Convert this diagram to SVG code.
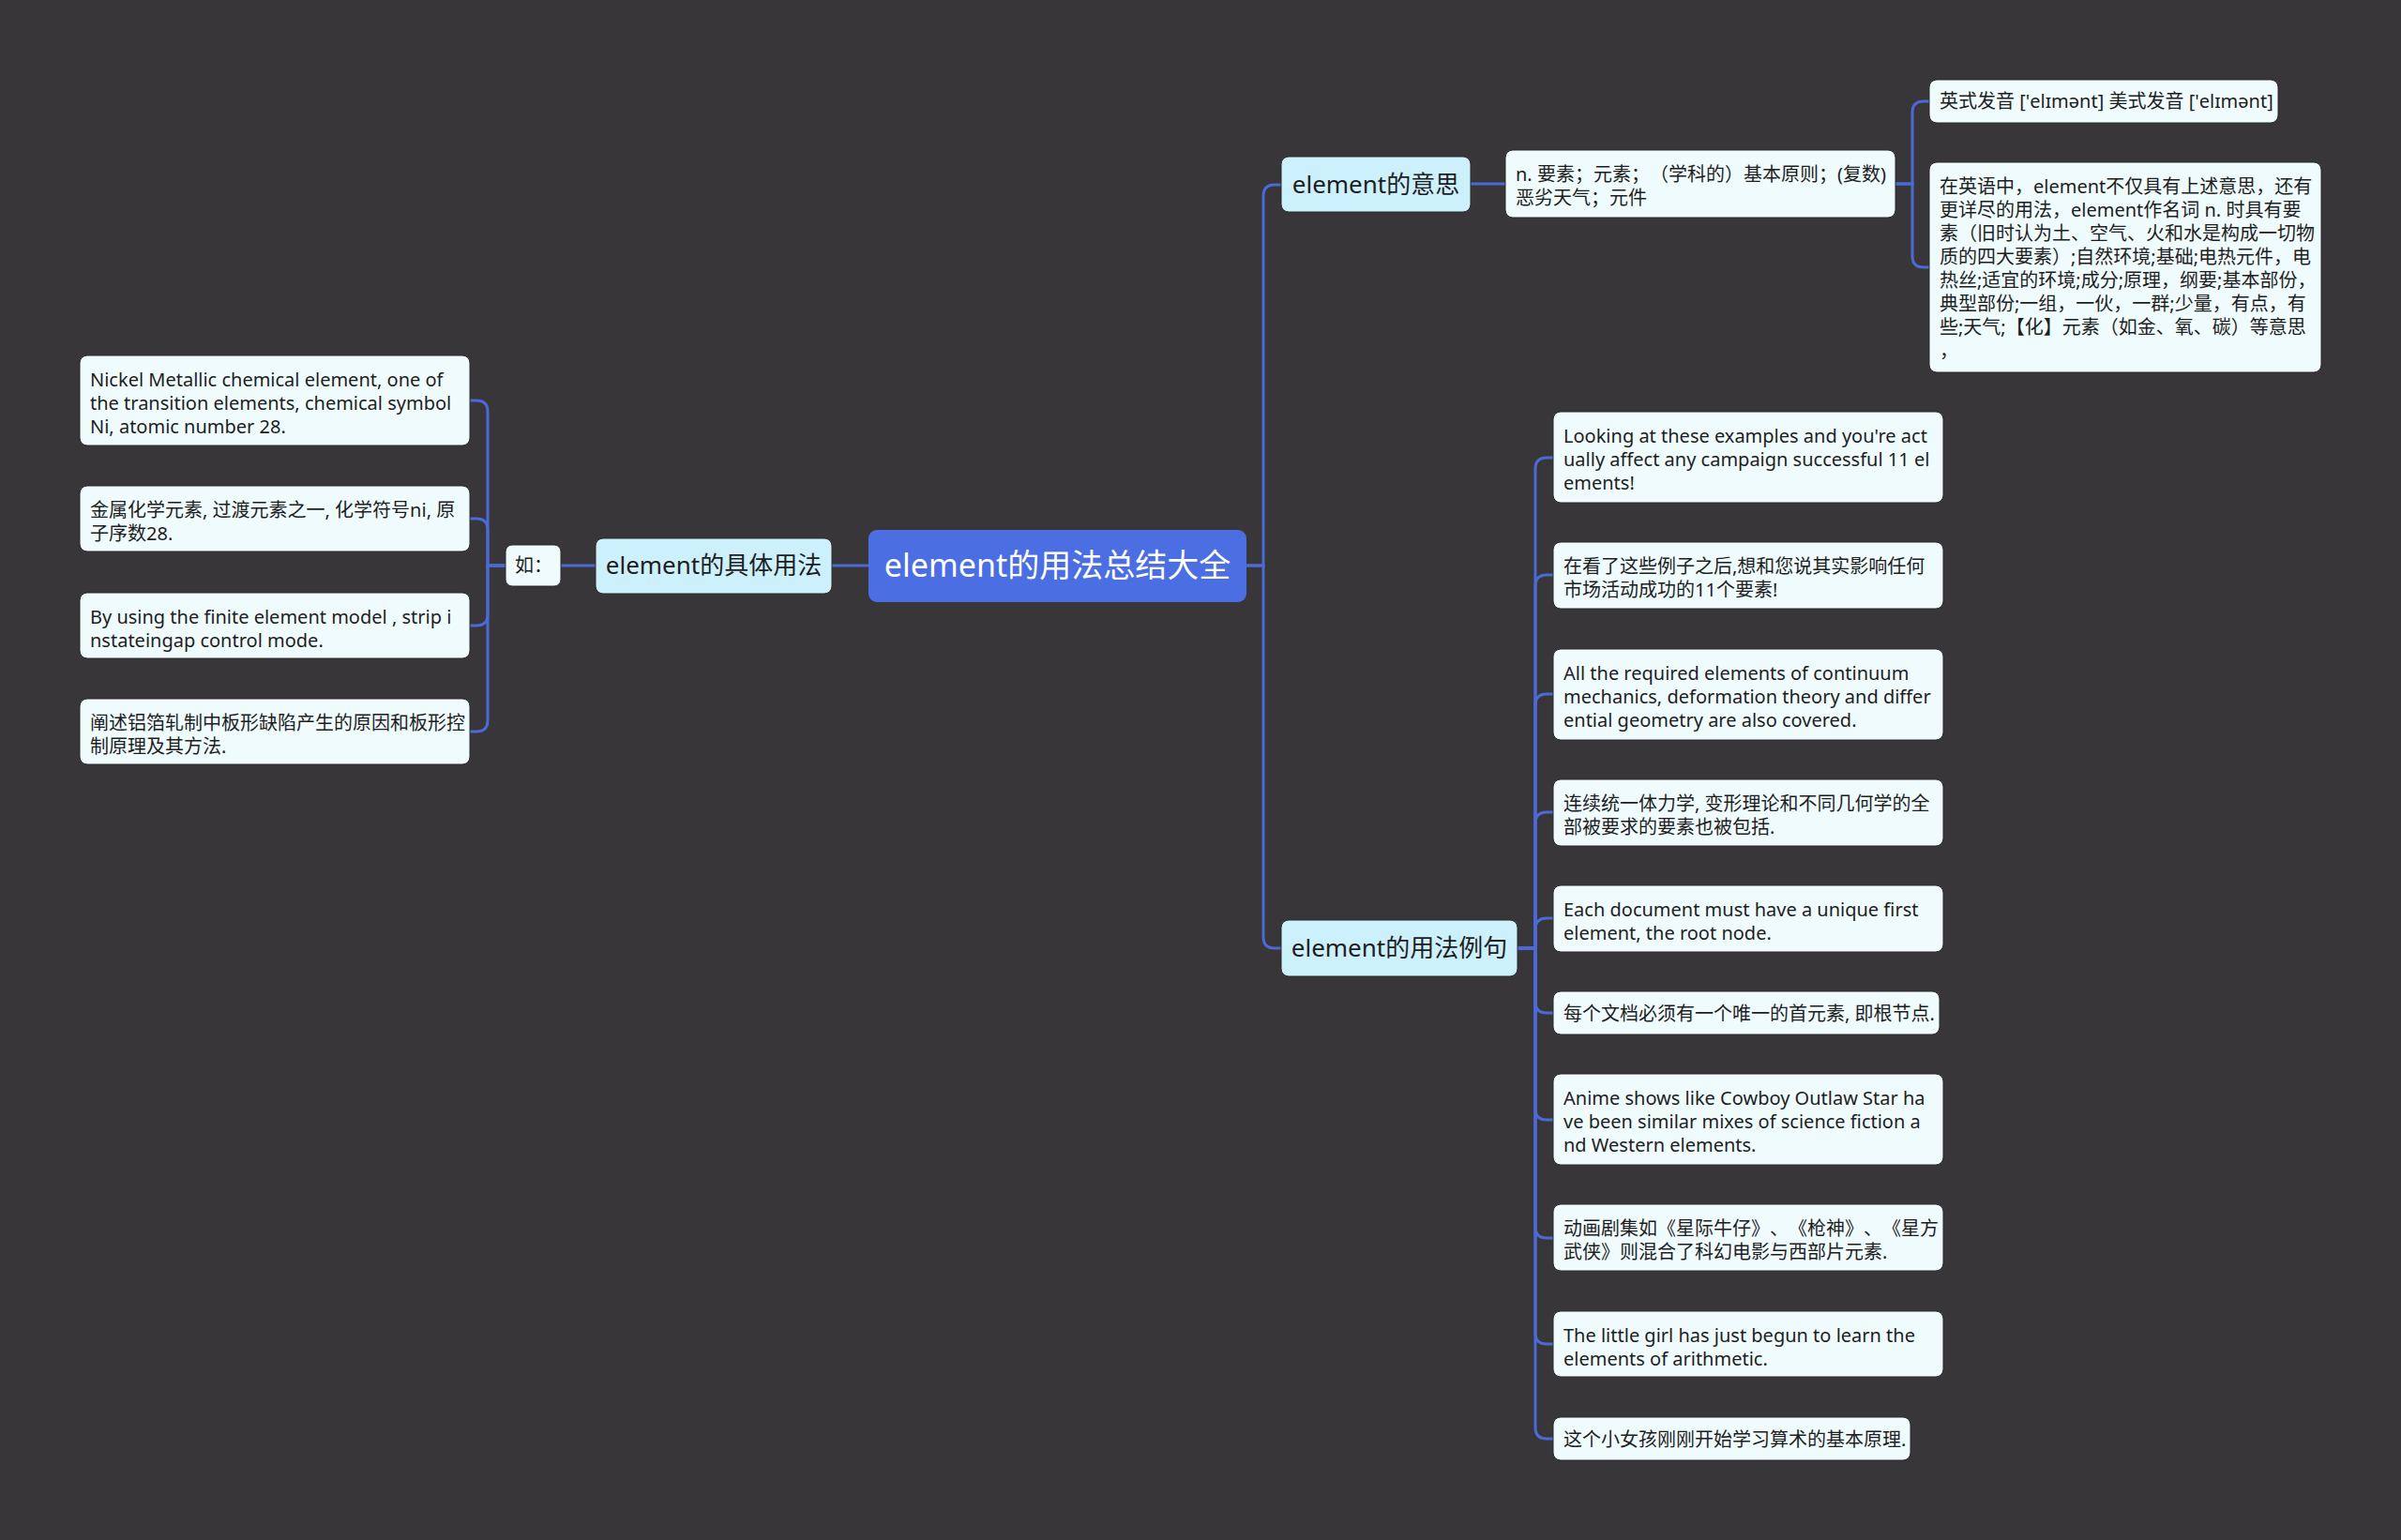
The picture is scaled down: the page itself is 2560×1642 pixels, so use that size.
<svg xmlns="http://www.w3.org/2000/svg" width="2560" height="1642" viewBox="0 0 2560 1642">
<style>
.bg{fill:#383638}
.ln{fill:none;stroke:#4a6ad6;stroke-width:3}
.root rect{fill:#4b6ee2}
.root text{fill:#ffffff;font-size:34px}
.l1 rect{fill:#cdf0fd;stroke:#2a2a2a;stroke-width:1}
.l1 text{fill:#1e1e1e;font-size:26px}
.lf rect{fill:#effbfd;stroke:#2a2a2a;stroke-width:1}
.lf text{fill:#1e1e1e;font-size:20px}
text{font-family:"Noto Sans","Noto Sans CJK SC",sans-serif;text-spacing-trim:space-all}
</style>
<rect class="bg" x="0" y="0" width="2560" height="1642"/>
<g id="connectors">
<path class="ln" d="M887 603 H926"/>
<path class="ln" d="M598 603 H635"/>
<path class="ln" d="M539 603 H520 V439 Q520 427 508 427 H501"/>
<path class="ln" d="M539 603 H520 V565 Q520 553 508 553 H501"/>
<path class="ln" d="M539 603 H520 V655 Q520 667 508 667 H501"/>
<path class="ln" d="M539 603 H520 V768 Q520 780 508 780 H501"/>
<path class="ln" d="M1329 603 H1347 V209 Q1347 197 1359 197 H1366"/>
<path class="ln" d="M1329 603 H1347 V999 Q1347 1011 1359 1011 H1366"/>
<path class="ln" d="M1568 196 H1605"/>
<path class="ln" d="M2021 196 H2039 V120 Q2039 108 2051 108 H2057"/>
<path class="ln" d="M2021 196 H2039 V273 Q2039 285 2051 285 H2057"/>
<path class="ln" d="M1618 1011 H1637 V500 Q1637 488 1649 488 H1656"/>
<path class="ln" d="M1618 1011 H1637 V625 Q1637 613 1649 613 H1656"/>
<path class="ln" d="M1618 1011 H1637 V752 Q1637 740 1649 740 H1656"/>
<path class="ln" d="M1618 1011 H1637 V878 Q1637 866 1649 866 H1656"/>
<path class="ln" d="M1618 1011 H1637 V991 Q1637 979 1649 979 H1656"/>
<path class="ln" d="M1618 1011 H1637 V1068 Q1637 1080 1649 1080 H1656"/>
<path class="ln" d="M1618 1011 H1637 V1182 Q1637 1194 1649 1194 H1656"/>
<path class="ln" d="M1618 1011 H1637 V1308 Q1637 1320 1649 1320 H1656"/>
<path class="ln" d="M1618 1011 H1637 V1421 Q1637 1433 1649 1433 H1656"/>
<path class="ln" d="M1618 1011 H1637 V1522 Q1637 1534 1649 1534 H1656"/>
</g>
<g id="root" class="root">
<rect x="926" y="565" width="403" height="77" rx="9"/>
<text x="1127.5" y="615" text-anchor="middle">element的用法总结大全</text>
</g>
<g id="n-usage" class="l1">
<rect x="635" y="574" width="252" height="59" rx="8"/>
<text x="761" y="612" text-anchor="middle">element的具体用法</text>
</g>
<g id="n-ru" class="lf">
<rect x="539" y="581" width="59" height="44" rx="7"/>
<text x="549" y="610">如：</text>
</g>
<g id="n-nickel" class="lf">
<rect x="85" y="379" width="416" height="96" rx="8"/>
<text x="96" y="412">Nickel Metallic chemical element, one of</text>
<text x="96" y="437">the transition elements, chemical symbol</text>
<text x="96" y="462">Ni, atomic number 28.</text>
</g>
<g id="n-jinshu" class="lf">
<rect x="85" y="518" width="416" height="70" rx="8"/>
<text x="96" y="551">金属化学元素, 过渡元素之一, 化学符号ni, 原</text>
<text x="96" y="576">子序数28.</text>
</g>
<g id="n-byusing" class="lf">
<rect x="85" y="632" width="416" height="70" rx="8"/>
<text x="96" y="665">By using the finite element model , strip i</text>
<text x="96" y="690">nstateingap control mode.</text>
</g>
<g id="n-chanshu" class="lf">
<rect x="85" y="745" width="416" height="70" rx="8"/>
<text x="96" y="778">阐述铝箔轧制中板形缺陷产生的原因和板形控</text>
<text x="96" y="803">制原理及其方法.</text>
</g>
<g id="n-meaning" class="l1">
<rect x="1366" y="167" width="202" height="59" rx="8"/>
<text x="1467" y="205.5" text-anchor="middle">element的意思</text>
</g>
<g id="n-def" class="lf">
<rect x="1605" y="160" width="416" height="72" rx="8"/>
<text x="1616" y="193">n. 要素；元素；（学科的）基本原则；(复数)</text>
<text x="1616" y="218">恶劣天气；元件</text>
</g>
<g id="n-pron" class="lf">
<rect x="2057" y="85" width="372" height="46" rx="8"/>
<text x="2068" y="115">英式发音 ['elɪmənt] 美式发音 ['elɪmənt]</text>
</g>
<g id="n-detail" class="lf">
<rect x="2057" y="173" width="418" height="224" rx="8"/>
<text x="2068" y="206">在英语中，element不仅具有上述意思，还有</text>
<text x="2068" y="231">更详尽的用法，element作名词 n. 时具有要</text>
<text x="2068" y="256">素（旧时认为土、空气、火和水是构成一切物</text>
<text x="2068" y="281">质的四大要素）;自然环境;基础;电热元件，电</text>
<text x="2068" y="306">热丝;适宜的环境;成分;原理，纲要;基本部份，</text>
<text x="2068" y="331">典型部份;一组，一伙，一群;少量，有点，有</text>
<text x="2068" y="356">些;天气;【化】元素（如金、氧、碳）等意思</text>
<text x="2068" y="381">，</text>
</g>
<g id="n-examples" class="l1">
<rect x="1366" y="981" width="252" height="60" rx="8"/>
<text x="1492" y="1020" text-anchor="middle">element的用法例句</text>
</g>
<g id="n-ex1" class="lf">
<rect x="1656" y="439" width="416" height="97" rx="8"/>
<text x="1667" y="472">Looking at these examples and you're act</text>
<text x="1667" y="497">ually affect any campaign successful 11 el</text>
<text x="1667" y="522">ements!</text>
</g>
<g id="n-ex2" class="lf">
<rect x="1656" y="578" width="416" height="71" rx="8"/>
<text x="1667" y="611">在看了这些例子之后,想和您说其实影响任何</text>
<text x="1667" y="636">市场活动成功的11个要素!</text>
</g>
<g id="n-ex3" class="lf">
<rect x="1656" y="692" width="416" height="97" rx="8"/>
<text x="1667" y="725">All the required elements of continuum</text>
<text x="1667" y="750">mechanics, deformation theory and differ</text>
<text x="1667" y="775">ential geometry are also covered.</text>
</g>
<g id="n-ex4" class="lf">
<rect x="1656" y="831" width="416" height="71" rx="8"/>
<text x="1667" y="864">连续统一体力学, 变形理论和不同几何学的全</text>
<text x="1667" y="889">部被要求的要素也被包括.</text>
</g>
<g id="n-ex5" class="lf">
<rect x="1656" y="944" width="416" height="71" rx="8"/>
<text x="1667" y="977">Each document must have a unique first</text>
<text x="1667" y="1002">element, the root node.</text>
</g>
<g id="n-ex6" class="lf">
<rect x="1656" y="1057" width="412" height="46" rx="8"/>
<text x="1667" y="1088">每个文档必须有一个唯一的首元素, 即根节点.</text>
</g>
<g id="n-ex7" class="lf">
<rect x="1656" y="1145" width="416" height="97" rx="8"/>
<text x="1667" y="1178">Anime shows like Cowboy Outlaw Star ha</text>
<text x="1667" y="1203">ve been similar mixes of science fiction a</text>
<text x="1667" y="1228">nd Western elements.</text>
</g>
<g id="n-ex8" class="lf">
<rect x="1656" y="1284" width="416" height="71" rx="8"/>
<text x="1667" y="1317">动画剧集如《星际牛仔》、《枪神》、《星方</text>
<text x="1667" y="1342">武侠》则混合了科幻电影与西部片元素.</text>
</g>
<g id="n-ex9" class="lf">
<rect x="1656" y="1398" width="416" height="70" rx="8"/>
<text x="1667" y="1431">The little girl has just begun to learn the</text>
<text x="1667" y="1456">elements of arithmetic.</text>
</g>
<g id="n-ex10" class="lf">
<rect x="1656" y="1511" width="381" height="46" rx="8"/>
<text x="1667" y="1542">这个小女孩刚刚开始学习算术的基本原理.</text>
</g>
</svg>
